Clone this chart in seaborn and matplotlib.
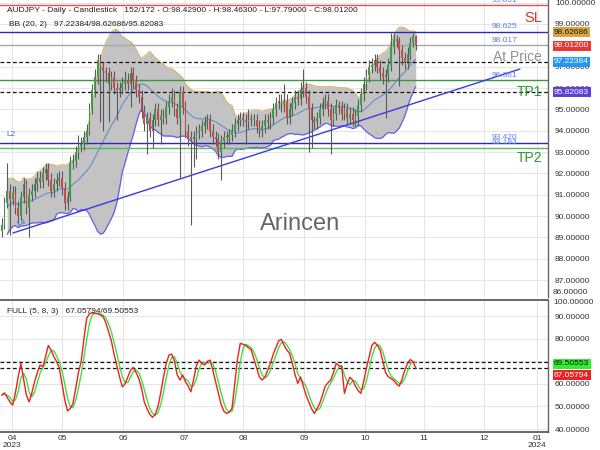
import numpy as np
import pandas as pd
import matplotlib
matplotlib.use("Agg")
import matplotlib.pyplot as plt
import seaborn as sns

# ---------------- data ----------------
closes = [
    89.6, 90.6, 91.2, 90.8, 91.1,
    90.4, 90.0, 90.9, 91.5, 90.4,
    91.0, 91.2, 91.5, 91.8, 91.6,
    92.0, 92.2, 91.7, 91.2, 91.5,
    91.7, 91.8, 91.3, 90.6, 90.9,
    92.5, 92.6, 93.0, 93.3, 93.4,
    93.7, 94.0, 95.0, 95.9, 96.5,
    97.3, 97.0, 96.8, 96.7, 96.2,
    96.5, 96.0, 95.9, 96.0, 96.2,
    96.4, 96.2, 96.7, 96.3, 95.9,
    95.6, 94.9, 94.3, 94.6, 94.0,
    94.5, 95.0, 94.5, 94.7, 94.6,
    95.1, 95.4, 95.6, 95.0, 94.6,
    95.8, 95.1, 94.0, 93.6, 93.7,
    93.6, 93.9, 94.0, 94.2, 94.4,
    94.5, 94.0, 93.7, 93.6, 93.0,
    93.5, 93.7, 93.7, 93.8, 94.0,
    94.3, 94.5, 94.6, 94.5, 94.4,
    94.5, 94.5, 94.5, 94.2, 94.0,
    94.2, 94.5, 94.4, 94.6, 95.0,
    95.3, 95.4, 95.2, 95.4, 94.6,
    95.0, 95.3, 95.6, 95.5, 95.9,
    96.0, 95.6, 95.0, 94.5, 94.4,
    94.6, 95.0, 95.3, 95.4, 95.0,
    94.5, 94.8, 95.2, 95.1, 94.8,
    95.0, 94.6, 94.8, 94.5, 94.7,
    95.2, 95.7, 96.2, 96.6, 97.0,
    97.1, 97.3, 97.0, 96.7, 96.5,
    96.6, 97.1, 97.9, 98.3, 98.2,
    97.8, 97.4, 97.2, 97.6, 98.1,
    98.429, 98.012]

opens = [
    89.3, 89.6, 90.6, 91.2, 90.8,
    91.1, 90.4, 90.0, 90.9, 91.5,
    90.4, 91.0, 91.2, 91.5, 91.8,
    91.6, 92.0, 92.2, 91.7, 91.2,
    91.5, 91.7, 91.8, 91.3, 90.6,
    90.9, 92.5, 92.6, 93.0, 93.3,
    93.4, 93.7, 94.0, 95.0, 95.9,
    96.5, 97.3, 97.0, 96.8, 96.7,
    96.2, 96.5, 96.0, 95.9, 96.0,
    96.2, 96.4, 96.2, 96.7, 96.3,
    95.9, 95.6, 94.9, 94.3, 94.6,
    94.0, 94.5, 95.0, 94.5, 94.7,
    94.6, 95.1, 95.4, 95.6, 95.0,
    94.6, 95.8, 95.1, 94.0, 93.6,
    93.7, 93.6, 93.9, 94.0, 94.2,
    94.4, 94.5, 94.0, 93.7, 93.6,
    93.0, 93.5, 93.7, 93.7, 93.8,
    94.0, 94.3, 94.5, 94.6, 94.5,
    94.4, 94.5, 94.5, 94.5, 94.2,
    94.0, 94.2, 94.5, 94.4, 94.6,
    95.0, 95.3, 95.4, 95.2, 95.4,
    94.6, 95.0, 95.3, 95.6, 95.5,
    95.9, 96.0, 95.6, 95.0, 94.5,
    94.4, 94.6, 95.0, 95.3, 95.4,
    95.0, 94.5, 94.8, 95.2, 95.1,
    94.8, 95.0, 94.6, 94.8, 94.5,
    94.7, 95.2, 95.7, 96.2, 96.6,
    97.0, 97.1, 97.3, 97.0, 96.7,
    96.5, 96.6, 97.1, 97.9, 98.3,
    98.2, 97.8, 97.4, 97.2, 97.6,
    98.1, 98.429]

highs = [
    89.9, 90.9, 92.5, 91.5, 91.4,
    91.4, 90.7, 91.2, 91.8, 91.7,
    91.3, 91.5, 91.8, 92.1, 92.1,
    92.3, 92.5, 92.5, 92.0, 91.8,
    92.0, 92.1, 92.1, 91.6, 91.2,
    92.8, 92.9, 93.3, 93.8, 93.7,
    94.0, 94.3, 95.3, 96.2, 96.9,
    97.6, 97.6, 97.2, 97.0, 97.0,
    96.8, 96.8, 96.3, 96.3, 96.5,
    96.8, 96.7, 97.0, 97.0, 96.6,
    96.2, 95.9, 95.2, 94.9, 94.9,
    94.8, 95.3, 95.3, 95.0, 95.0,
    95.4, 95.7, 96.0, 95.9, 95.3,
    96.1, 96.1, 95.4, 94.3, 94.0,
    94.0, 94.2, 94.3, 94.5, 94.7,
    94.8, 94.8, 94.3, 94.0, 93.9,
    93.8, 94.0, 94.0, 94.1, 94.3,
    94.6, 94.8, 94.9, 94.9, 94.8,
    95.0, 94.8, 94.8, 94.8, 94.5,
    94.5, 94.8, 94.8, 94.9, 95.3,
    95.6, 95.7, 95.7, 96.2, 95.7,
    95.3, 95.6, 95.9, 95.9, 96.3,
    96.9, 96.3, 95.9, 95.3, 94.7,
    94.9, 95.3, 95.6, 95.7, 95.7,
    95.3, 95.1, 95.5, 95.4, 95.4,
    95.3, 95.3, 95.1, 95.1, 95.0,
    95.5, 96.0, 96.5, 96.9, 97.3,
    97.4, 97.6, 97.6, 97.3, 97.0,
    96.9, 97.4, 98.6, 98.6, 98.5,
    98.4, 98.0, 97.7, 97.9, 98.4,
    98.6, 98.463]

lows = [
    89.0, 89.4, 90.4, 89.1, 90.5,
    90.1, 89.7, 89.8, 90.6, 90.1,
    89.0, 90.7, 90.9, 91.2, 91.3,
    91.3, 91.7, 91.4, 90.9, 90.9,
    91.2, 91.4, 91.0, 90.3, 90.3,
    90.7, 92.2, 92.3, 92.7, 93.0,
    93.1, 93.4, 93.8, 94.8, 95.6,
    96.2, 94.4, 94.0, 96.3, 94.4,
    95.9, 95.7, 94.5, 95.6, 95.7,
    95.9, 95.9, 95.1, 96.0, 95.6,
    95.3, 94.6, 94.0, 92.9, 93.7,
    93.2, 94.2, 94.2, 93.4, 94.3,
    94.3, 94.8, 95.1, 94.7, 94.3,
    91.8, 94.8, 93.7, 93.3, 89.6,
    92.3, 92.7, 93.6, 93.7, 93.9,
    94.1, 93.7, 93.4, 93.3, 92.7,
    91.7, 93.2, 93.4, 93.4, 93.5,
    93.7, 94.0, 94.2, 94.2, 93.4,
    94.1, 94.2, 94.2, 93.9, 93.7,
    93.7, 93.9, 94.1, 94.1, 94.3,
    94.7, 95.0, 94.9, 94.9, 94.3,
    94.3, 94.7, 95.0, 95.2, 95.2,
    95.6, 95.3, 93.0, 93.2, 94.1,
    94.1, 94.3, 94.7, 95.0, 94.7,
    92.9, 94.2, 94.5, 94.8, 94.5,
    94.5, 94.3, 94.3, 94.2, 94.2,
    94.2, 94.9, 95.4, 95.9, 96.3,
    96.7, 96.8, 96.7, 96.4, 96.2,
    94.6, 96.3, 96.8, 97.6, 97.9,
    96.1, 97.1, 96.9, 96.9, 97.3,
    97.9, 97.79]

stoch_k = [
    55, 56, 54, 52, 50.6, 56, 63, 69, 62, 55,
    52, 56, 61, 65, 68.3, 67.6, 72, 77, 75, 72,
    70, 67, 60, 53, 48, 49, 51.4, 58, 65, 70,
    80, 89, 91, 91.5, 91.2, 91, 90.5, 89.7, 87, 83,
    79, 73, 68, 63, 58.7, 60, 63, 66, 67.3, 65,
    62.4, 58, 52, 49, 46.5, 45.2, 46.5, 50, 56, 63,
    69, 72.7, 73.2, 70, 64, 61.7, 63.9, 61, 59, 56.5,
    62, 68, 70.5, 69, 68.3, 70, 70.5, 66, 61, 56,
    51, 48, 46.9, 47.5, 49.2, 60, 71, 77.9, 77.5, 77,
    76, 75, 71, 67, 63, 61.7, 63, 66, 69, 73,
    76, 79, 79.7, 77, 75, 73.5, 69, 64, 60.2, 63,
    59, 55, 52, 49, 46.9, 49, 51.4, 55, 59, 60.5,
    61.7, 65, 69.1, 68, 67.6, 55.8, 60, 62.9, 61.7, 59,
    57, 55.8, 61, 66.8, 72, 77, 78.4, 77, 75, 70,
    65, 63.1, 62.4, 61.5, 60, 59, 62, 66, 69, 70.8,
    69.8, 67.05794]

stoch_d = [
    55, 55.5, 55, 54, 52.2, 52.9, 56.5, 62.7, 64.7, 62,
    56.3, 54.3, 56.3, 60.7, 64.8, 67, 69.3, 72.2, 74.7, 74.7,
    72.3, 69.7, 65.7, 60, 53.7, 50, 49.5, 52.8, 58.1, 64.3,
    71.7, 79.7, 86.7, 90.5, 91.2, 91.2, 90.9, 90.4, 89.1, 86.6,
    83, 78.3, 73.3, 68, 63.2, 60.6, 60.6, 63, 65.4, 66.1,
    64.9, 61.8, 57.5, 53, 49.2, 46.9, 46.1, 47.2, 50.8, 56.3,
    62.7, 68.2, 71.6, 72, 69.1, 65.2, 63.2, 62.2, 61.3, 58.8,
    59.2, 62.2, 66.8, 69.2, 69.3, 69.1, 69.6, 68.8, 65.8, 61,
    56, 51.7, 48.6, 47.5, 47.9, 52.2, 60.1, 69.6, 75.5, 77.5,
    76.8, 76, 74, 71, 67, 63.9, 62.6, 63.6, 66, 69.3,
    72.7, 76, 78.2, 78.6, 77.2, 75.2, 72.5, 68.8, 64.4, 62.4,
    60.7, 59, 55.3, 52, 49.3, 48.3, 49.1, 51.8, 55.1, 58.2,
    60.4, 62.4, 65.3, 67.4, 68.2, 63.8, 61.1, 59.6, 61.5, 61.2,
    59.2, 57.3, 57.9, 61.2, 66.6, 71.9, 75.8, 77.5, 76.8, 74,
    70, 66, 63.5, 62.3, 61.3, 60.2, 60.3, 62.3, 65.7, 68.6,
    69.9, 69.50553]

level_prices = [99.891, 98.625, 98.017, 96.361, 93.420, 93.183]
level_texts = ["99.891", "98.625", "98.017", "96.361", "93.420", "93.183"]
trend_x = [4.1, 189.0]
trend_y = [89.21, 96.89]
bb_last = {"mid": 97.22384, "upper": 98.62686, "lower": 95.82083}
stoch_last = {"k": 67.05794, "d": 69.50553}
last_close = 98.012
month_labels = ["04\n2023", "05", "06", "07", "08", "09", "10", "11", "12", "01\n2024"]
price_ticks = list(range(87, 101))
stoch_ticks = [40, 50, 60, 70, 80, 90]

# ---------------- style ----------------
sns.set_theme(style="white")
plt.rcParams['font.family'] = ['Liberation Sans', 'DejaVu Sans']

W, H = 600, 450
fig = plt.figure(figsize=(6, 4.5), dpi=100)
fig.patch.set_facecolor("white")

def fx(px):
    return px / W

def fy(py):
    return 1 - py / H

ax = fig.add_axes([0, fy(297), fx(548), 297 / H])
ax2 = fig.add_axes([0, fy(432), fx(548), 132 / H])

n = len(closes)
idx = np.arange(n)
df = pd.DataFrame({"i": idx, "open": opens, "high": highs, "low": lows, "close": closes,
                   "k": stoch_k, "d": stoch_d})
roll = df["close"].rolling(20, min_periods=3)
df["mid"] = roll.mean()
df["sd"] = roll.std(ddof=0)
df["up"] = df["mid"] + 2 * df["sd"]
df["lo"] = df["mid"] - 2 * df["sd"]

month_pos = [3.76, 22.17, 44.24, 66.48, 88.0, 110.25, 132.49, 154.0, 175.9, 195.2]
xlim = (-0.62, 199.24)

grid_c = "#e6e6e6"
for a in (ax, ax2):
    a.set_facecolor("white")
    a.set_xlim(*xlim)
    a.set_xticks(month_pos)
    a.grid(True, color=grid_c, lw=0.8)
    a.set_axisbelow(True)
    for s in ("left", "top", "bottom"):
        a.spines[s].set_visible(False)
    a.spines["right"].set_color("#666666")
    a.spines["right"].set_linewidth(1.0)
    a.yaxis.tick_right()
    a.tick_params(axis="y", length=0, pad=5, labelsize=6, labelcolor="#333333")

# ---------- price panel ----------
ax.set_ylim(86.213, 100.124)
ax.set_yticks(price_ticks)
ax.set_yticklabels([f"{v:.5f}" for v in price_ticks])
ax.tick_params(axis="x", length=0, labelbottom=False)

ax.fill_between(df["i"], df["lo"], df["up"], color="#c3c3c3", lw=0, zorder=1)
sns.lineplot(data=df, x="i", y="up", ax=ax, color="#d9b36a", lw=0.8, zorder=2)
sns.lineplot(data=df, x="i", y="lo", ax=ax, color="#6b5fe6", lw=0.9, zorder=2)
sns.lineplot(data=df, x="i", y="mid", ax=ax, color="#5a86c8", lw=0.7, zorder=2)

level_colors = ["#e85050", "#2b2bb0", "#a9a9a9", "#3a9a3a", "#2b2bb0", "#5cb85c"]
for p, c in zip(level_prices, level_colors):
    ax.axhline(p, color=c, lw=1.0, zorder=2.5)
for p in (bb_last["mid"], bb_last["lower"]):
    ax.axhline(p, color="#111111", lw=0.9, ls=(0, (3, 2)), zorder=2.5)

ax.plot(trend_x, trend_y, color="#3b3be0", lw=1.0, zorder=2.6)

# candles
o = df["open"].to_numpy(); c = df["close"].to_numpy()
body_lo = np.minimum(o, c)
body_h = np.maximum(np.abs(c - o), 0.04)
cols = np.where(c >= o, "#3a9d4a", "#c84a4a")
ax.vlines(df["i"], df["low"], df["high"], color="#5a5a5a", lw=0.8, zorder=3)
ax.bar(df["i"], body_h, bottom=body_lo, width=0.62, color=cols, lw=0, zorder=4)

# level labels
lab_y = [0, 26.7, 40.7, 75.7, 137.7, 142.7]
for t, py in zip(level_texts, lab_y):
    fig.text(fx(491.5), fy(py), t, fontsize=6, color="#5b7ee8", va="center", ha="left")

fig.text(fx(542), fy(18), "SL", fontsize=10.5, color="#e03030", ha="right", va="center")
fig.text(fx(542), fy(57), "At Price", fontsize=10, color="#909090", ha="right", va="center")
fig.text(fx(542), fy(92), "TP1", fontsize=10, color="#2e9a2e", ha="right", va="center")
fig.text(fx(542), fy(158.5), "TP2", fontsize=10, color="#2e9a2e", ha="right", va="center")
fig.text(fx(6), fy(135), "L2", fontsize=6, color="#4a6fd8", ha="left", va="center")
fig.text(fx(16), fy(223), "L4", fontsize=6, color="#4a6fd8", ha="left", va="center", rotation=15)
fig.text(fx(300), fy(224), "Arincen", fontsize=17, color="#666666", ha="center", va="center")

fig.text(fx(7), fy(10),
         "AUDJPY - Daily - Candlestick   152/172 - O:98.42900 - H:98.46300 - L:97.79000 - C:98.01200",
         fontsize=6, color="#222222", va="center", ha="left")
fig.text(fx(9), fy(25),
         f"BB (20, 2)   {bb_last['mid']:.5f}/{bb_last['upper']:.5f}/{bb_last['lower']:.5f}",
         fontsize=6, color="#222222", va="center", ha="left")
fig.text(fx(553), fy(293), "86.00000", fontsize=6, color="#333333", va="center", ha="left")

def box(py, txt, bg, fg):
    fig.text(fx(554), fy(py), txt, fontsize=6, color=fg, va="center", ha="left",
             bbox=dict(boxstyle="square,pad=0.18", fc=bg, ec="none"), zorder=10)

box(32.3, f"{bb_last['upper']:.5f}", "#d9a441", "#222222")
box(45.7, f"{last_close:.5f}", "#e53935", "white")
box(61.7, f"{bb_last['mid']:.5f}", "#2196f3", "white")
box(92.3, f"{bb_last['lower']:.5f}", "#5e3fd8", "white")

# ---------- stochastic panel ----------
ax2.set_ylim(38.7, 97.1)
ax2.set_yticks(stoch_ticks)
ax2.set_yticklabels([f"{v:.5f}" for v in stoch_ticks])
ax2.spines["top"].set_visible(True)
ax2.spines["top"].set_color("#555555")
ax2.spines["bottom"].set_visible(True)
ax2.spines["bottom"].set_color("#555555")
ax2.tick_params(axis="x", length=2, width=0.6, color="#777777", labelsize=6,
                labelcolor="#333333", pad=0.5)
ax2.set_xticklabels(month_labels, linespacing=0.95)

ax2.axhline(stoch_last["d"], color="#111111", lw=0.9, ls=(0, (3, 2)), zorder=2)
ax2.axhline(stoch_last["k"], color="#111111", lw=0.9, ls=(0, (3, 2)), zorder=2)
sns.lineplot(data=df, x="i", y="d", ax=ax2, color="#44dd44", lw=1.0, zorder=3)
sns.lineplot(data=df, x="i", y="k", ax=ax2, color="#ee2020", lw=1.0, zorder=4)
for a in (ax, ax2):
    a.set_xlabel("")
    a.set_ylabel("")

fig.text(fx(7), fy(311.5), f"FULL (5, 8, 3)   {stoch_last['k']:.5f}/{stoch_last['d']:.5f}",
         fontsize=6, color="#222222", va="center", ha="left")
fig.text(fx(553), fy(303), "100.00000", fontsize=6, color="#333333", va="center", ha="left")
box(363.5, f"{stoch_last['d']:.5f}", "#33ee33", "#111111")
box(375.3, f"{stoch_last['k']:.5f}", "#ee2222", "white")

fig.savefig("out.png", dpi=100, facecolor="white")
